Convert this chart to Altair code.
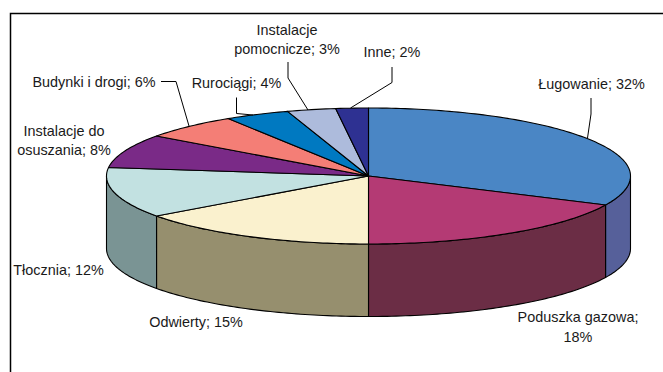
import math
import altair as alt

# Cost structure shares, clockwise from twelve o'clock
categories = ["Ługowanie", "Poduszka gazowa", "Odwierty", "Tłocznia", "Instalacje do osuszania",
              "Budynki i drogi", "Rurociągi", "Instalacje pomocnicze", "Inne"]
shares = [32, 18, 15, 12, 8, 6, 4, 3, 2]
top_colors = ["#4A86C5", "#B43A74", "#FAF1CE", "#C2E1E1", "#7A2A87",
              "#F47E76", "#0079C1", "#ADBBDC", "#2E3192"]
side_colors = ["#56609A", "#6B2D45", "#968F6E", "#7A9494", "#4A1A52",
               "#94504A", "#004A75", "#6A7288", "#1C1E5A"]

# Canvas and tilted-disc geometry, in pixels
W, H = 663, 372
CX, CY, RX, RY, DEPTH = 368.5, 176.0, 262.0, 68.0, 72.5

# Where each label sits and how its text wraps
label_layout = {
    "Ługowanie": (591.5, 85, "{n}; {v}%"),
    "Poduszka gazowa": (578, 318, "{n};\n{v}%"),
    "Odwierty": (196, 322.5, "{n}; {v}%"),
    "Tłocznia": (58.5, 271, "{n}; {v}%"),
    "Instalacje do osuszania": (64, 131.5, "Instalacje do\nosuszania; {v}%"),
    "Budynki i drogi": (94, 83, "{n}; {v}%"),
    "Rurociągi": (236.5, 84, "{n}; {v}%"),
    "Instalacje pomocnicze": (287, 30.5, "Instalacje\npomocnicze; {v}%"),
    "Inne": (392, 53, "{n}; {v}%"),
}

# Elbowed leader lines from label to slice rim
leader_paths = {
    "Ługowanie": [(591, 98), (591, 114), (587.5, 138)],
    "Inne": [(392, 67), (392, 82.5), (350.5, 108)],
    "Instalacje pomocnicze": [(288, 62), (288, 78), (308, 110)],
    "Rurociągi": [(236.5, 97.5), (236.5, 113.5), (253, 115)],
    "Budynki i drogi": [(161, 81.5), (176, 81.5), (189, 126)],
}


def rim(deg, dy=0.0):
    a = math.radians(deg)
    return [CX + RX * math.sin(a), CY - RY * math.cos(a) + dy]


def feature(ring, fill):
    return {"type": "Feature", "properties": {"fill": fill},
            "geometry": {"type": "Polygon", "coordinates": [ring + [ring[0]]]}}


def sweep(a0, a1):
    n = max(2, int(abs(a1 - a0)))
    return [a0 + (a1 - a0) * i / n for i in range(n + 1)]


side_features, top_features = [], []
running = 0
for value, top, side in zip(shares, top_colors, side_colors):
    start = running * 3.6
    end = (running + value) * 3.6
    running += value
    top_features.append(feature([[CX, CY]] + [rim(d) for d in sweep(start, end)], top))
    # Only the part of the wall facing the viewer (90 to 270 degrees) is visible
    lo, hi = max(start, 90), min(end, 270)
    if lo < hi:
        arc = sweep(lo, hi)
        side_features.append(feature([rim(d) for d in arc] + [rim(d, DEPTH) for d in reversed(arc)], side))


def disc_layer(features):
    return (
        alt.Chart(alt.InlineData(values={"type": "FeatureCollection", "features": features},
                                 format=alt.DataFormat(property="features", type="json")))
        .mark_geoshape(stroke="#000000", strokeWidth=1.1, strokeJoin="round")
        .encode(color=alt.Color("properties.fill:N", scale=None, legend=None))
        .project(type="identity", scale=1, translate=[0, 0])
    )


X = alt.X("x:Q", scale=alt.Scale(domain=[0, W], range=[0, W]), axis=None)
Y = alt.Y("y:Q", scale=alt.Scale(domain=[0, H], range=[0, H]), axis=None)

leader_rows = [
    {"slice": name, "order": i, "x": p[0], "y": p[1]}
    for name, path in leader_paths.items() for i, p in enumerate(path)
]
leaders = (
    alt.Chart(alt.Data(values=leader_rows))
    .mark_line(color="#000000", strokeWidth=1, clip=False)
    .encode(x=X, y=Y, detail="slice:N", order="order:Q")
)

label_rows = []
for name, value in zip(categories, shares):
    lx, ly, pattern = label_layout[name]
    label_rows.append({"x": lx, "y": ly, "label": pattern.format(n=name, v=value)})
labels = (
    alt.Chart(alt.Data(values=label_rows))
    .mark_text(font="Liberation Sans", fontSize=14.4, color="#1a1a1a", align="center",
               baseline="middle", lineBreak="\n", lineHeight=19.5)
    .encode(x=X, y=Y, text="label:N")
)

frame = (
    alt.Chart(alt.Data(values=[
        {"order": 0, "x": 10.5, "y": H},
        {"order": 1, "x": 10.5, "y": 13.5},
        {"order": 2, "x": W, "y": 13.5},
    ]))
    .mark_line(color="#000000", strokeWidth=1.5, clip=False)
    .encode(x=X, y=Y, order="order:Q")
)

chart = (
    alt.layer(frame, disc_layer(side_features), disc_layer(top_features), leaders, labels)
    .resolve_scale(color="independent")
    .properties(width=W, height=H, padding=0, autosize=alt.AutoSizeParams(type="none"), background="#ffffff")
    .configure_view(stroke=None)
)
chart.save("out.html", embed_options={"renderer": "svg", "actions": False})
